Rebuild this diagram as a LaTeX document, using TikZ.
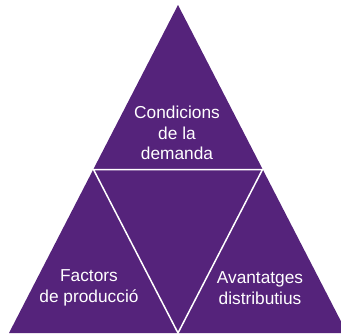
\documentclass[tikz,border=0pt]{standalone}
\usepackage{fontspec}
\setmainfont{Liberation Sans}
\definecolor{porpra}{HTML}{55237B}
\begin{document}
\begin{tikzpicture}[x=1pt,y=-1pt]
		\tikzstyle{every node}=[font=\fontsize{17.3}{20.8}\selectfont, text=white, align=center]
		\tikzset{vora/.style={draw=white, line width=1.5pt, line join=miter}}
		\useasboundingbox (0,0) rectangle (341,335);
		\clip (0,0) rectangle (341,335);
		\coordinate (apex) at (178,5);
		\coordinate (bl) at (9,333);
		\coordinate (br) at (347,333);
		\coordinate (ml) at (93.5,169.5);
		\coordinate (mr) at (262.5,169.5);
		\coordinate (mb) at (178,333);
		\fill [porpra] (apex) -- (bl) -- (br) -- cycle;
		\draw [vora] (ml) -- (mr) -- (mb) -- cycle;
		\node (demanda) at (177,133) {Condicions\\de la\\demanda};
		\node (factors) at (89,288) {Factors\\de producció};
		\node (avantatges) at (260,288) {Avantatges\\distributius};
	\end{tikzpicture}
\end{document}
